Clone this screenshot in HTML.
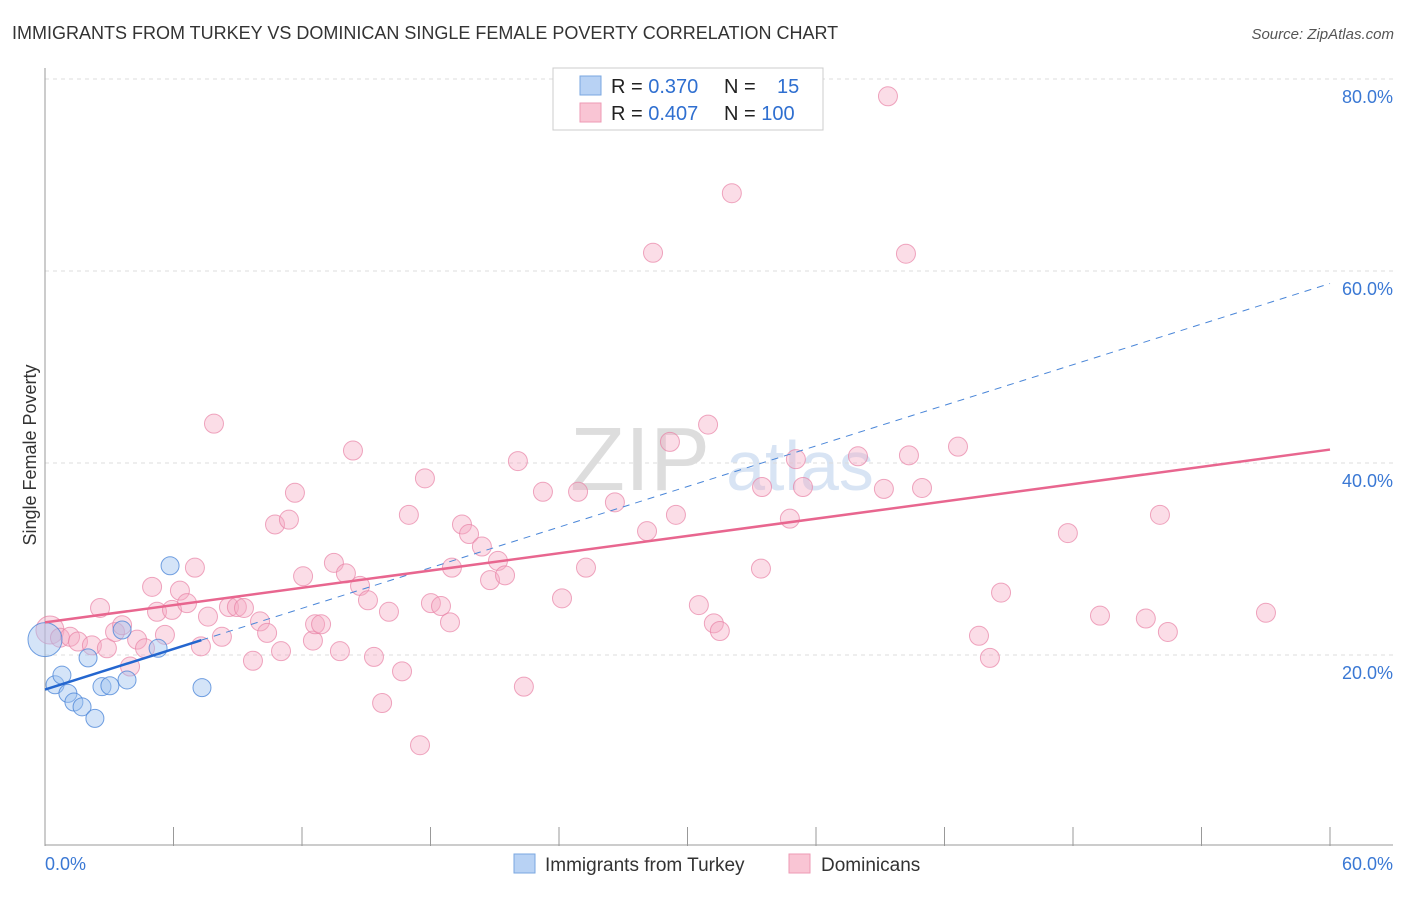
<!DOCTYPE html>
<html><head><meta charset="utf-8"><style>
body{margin:0;background:#fff;font-family:"Liberation Sans",sans-serif;}
svg text{font-family:"Liberation Sans",sans-serif;}
</style></head><body>
<svg id="c" width="1406" height="892">
<text x="12" y="39" font-size="18" fill="#333">IMMIGRANTS FROM TURKEY VS DOMINICAN SINGLE FEMALE POVERTY CORRELATION CHART</text>
<text x="1394" y="39" font-size="15" fill="#555" font-style="italic" text-anchor="end">Source: ZipAtlas.com</text>
<text x="36" y="455" font-size="18" fill="#333" text-anchor="middle" transform="rotate(-90 36 455)">Single Female Poverty</text>
<text x="640" y="490" font-size="90" fill="#ddd" font-family="Liberation Serif" text-anchor="middle">ZIP</text>
<text x="800" y="490" font-size="70" fill="#d8e4f4" text-anchor="middle">atlas</text>
<g id="grid"></g><g id="marks"></g>
<g>
<rect x="553" y="68" width="270" height="62" fill="#fff" stroke="#ccc"/>
<rect x="580" y="76" width="21" height="19" fill="#b8d2f4" stroke="#7aa7e0"/>
<rect x="580" y="103" width="21" height="19" fill="#f9c5d4" stroke="#ee9ab4"/>
<text x="611" y="93" font-size="20" fill="#222">R = <tspan fill="#2f6fd0">0.370</tspan></text>
<text x="724" y="93" font-size="20" fill="#222">N = <tspan x="777" fill="#2f6fd0">15</tspan></text>
<text x="611" y="120" font-size="20" fill="#222">R = <tspan fill="#2f6fd0">0.407</tspan></text>
<text x="724" y="120" font-size="20" fill="#222">N = <tspan fill="#2f6fd0">100</tspan></text>
</g>
<g>
<rect x="514" y="854" width="21" height="19" fill="#b8d2f4" stroke="#7aa7e0"/>
<text x="545" y="871" font-size="19" fill="#333">Immigrants from Turkey</text>
<rect x="789" y="854" width="21" height="19" fill="#f9c5d4" stroke="#ee9ab4"/>
<text x="821" y="871" font-size="19" fill="#333">Dominicans</text>
</g>
</svg>
<script>
const yTicks=[20,40,60,80];
const yTickLabels=["20.0%","40.0%","60.0%","80.0%"];
const xTickLabels=["0.0%","60.0%"];
const turkeyX=[0,0.47,0.79,1.07,1.35,1.73,2.01,2.33,2.66,3.03,3.60,3.83,5.28,5.84,7.33];
const turkeyY=[21.6,16.9,17.9,16.0,15.1,14.6,19.7,13.4,16.7,16.8,22.6,17.4,20.7,29.3,16.6];
const domX=[0.23,0.70,1.17,1.54,2.19,2.57,2.89,3.27,3.60,3.97,4.30,4.67,5.00,5.23,5.60,5.93,6.30,6.63,7.00,7.28,7.61,7.89,8.26,8.59,8.96,9.29,9.71,10.04,10.37,10.74,11.02,11.39,11.67,12.05,12.51,12.61,12.89,13.49,13.77,14.05,14.38,14.71,15.08,15.36,15.74,16.06,16.67,16.99,17.51,17.74,18.02,18.49,18.91,19.00,19.47,19.80,20.40,20.78,21.15,21.48,22.08,22.36,23.25,24.14,24.89,25.26,26.61,28.11,28.39,29.18,29.46,30.53,30.96,31.23,31.51,32.07,33.43,33.48,34.78,35.06,35.39,37.96,39.17,39.36,40.20,40.34,40.95,42.63,43.61,44.12,44.64,47.76,49.26,51.40,52.06,52.43,57.01];
const domY=[22.6,21.8,21.9,21.4,21.0,24.9,20.7,22.4,23.1,18.8,21.6,20.7,27.1,24.5,22.1,24.7,26.7,25.4,29.1,20.9,24.0,44.1,21.9,25.0,25.0,24.9,19.4,23.5,22.3,33.6,20.4,34.1,36.9,28.2,21.5,23.2,23.2,29.6,20.4,28.5,41.3,27.2,25.7,19.8,15.0,24.5,18.3,34.6,10.6,38.4,25.4,25.1,23.4,29.1,33.6,32.6,31.3,27.8,29.8,28.3,40.2,16.7,37.0,25.9,37.0,29.1,35.9,32.9,61.9,42.2,34.6,25.2,44.0,23.3,22.5,68.1,29.0,37.5,34.2,40.4,37.5,40.7,37.3,78.2,61.8,40.8,37.4,41.7,22.0,19.7,26.5,32.7,24.1,23.8,34.6,22.4,24.4];
const turkeyTrend=[16.4,58.7];
const domTrend=[23.4,41.4];
const sx=v=>45+v/60*1285, sy=v=>847-v*9.6;
const NS="http://www.w3.org/2000/svg";
function mk(p,t,a){const e=document.createElementNS(NS,t);for(const k in a)e.setAttribute(k,a[k]);p.appendChild(e);return e;}
const g=document.getElementById('grid'), m=document.getElementById('marks');
yTicks.forEach((t,i)=>{
 const l=mk(g,'line',{x1:45,x2:1393,y1:sy(t),y2:sy(t),stroke:'#ddd','stroke-dasharray':'4,4'});
 
 
 const tx=mk(g,'text',{x:1393,y:sy(t)+24,'font-size':18,fill:'#3a78d4','text-anchor':'end'});
 tx.textContent=yTickLabels[i];
 
 
});
const ya=mk(g,'line',{x1:45,x2:45,y1:68,y2:846,stroke:'#999'});


const xa=mk(g,'line',{x1:45,x2:1393,y1:845,y2:845,stroke:'#999'});


for(let i=0;i<=10;i++){const t=mk(g,'line',{x1:sx(i*6),x2:sx(i*6),y1:827,y2:846,stroke:'#999'});
 
 }
[[0,'start',45],[60,'end',1393]].forEach((d,i)=>{const t=mk(g,'text',{x:d[2],y:870,'font-size':18,fill:'#3a78d4','text-anchor':d[1]});t.textContent=xTickLabels[i];
 
 });
domX.forEach((x,i)=>{const c=mk(m,'circle',{cx:sx(x),cy:sy(domY[i]),r:i==0?14:9.5,fill:'rgba(246,170,195,0.4)',stroke:'rgba(232,130,165,0.7)','stroke-width':1});
 
 });
turkeyX.forEach((x,i)=>{const c=mk(m,'circle',{cx:sx(x),cy:sy(turkeyY[i]),r:i==0?17:9,fill:'rgba(160,195,240,0.45)',stroke:'rgba(70,130,215,0.75)','stroke-width':1});
 
 });
const f=x=>turkeyTrend[0]+(turkeyTrend[1]-turkeyTrend[0])*x/60;
const td=mk(m,'line',{x1:sx(7.3),y1:sy(f(7.3)),x2:sx(60),y2:sy(f(60)),stroke:'#4a86d8','stroke-width':1,'stroke-dasharray':'7,6'});


const ts=mk(m,'line',{x1:sx(0),y1:sy(f(0)),x2:sx(7.3),y2:sy(f(7.3)),stroke:'#2466cf','stroke-width':2.5});


const dl=mk(m,'line',{x1:sx(0),y1:sy(domTrend[0]),x2:sx(60),y2:sy(domTrend[1]),stroke:'#e8668f','stroke-width':2.5});


</script>
</body></html>
